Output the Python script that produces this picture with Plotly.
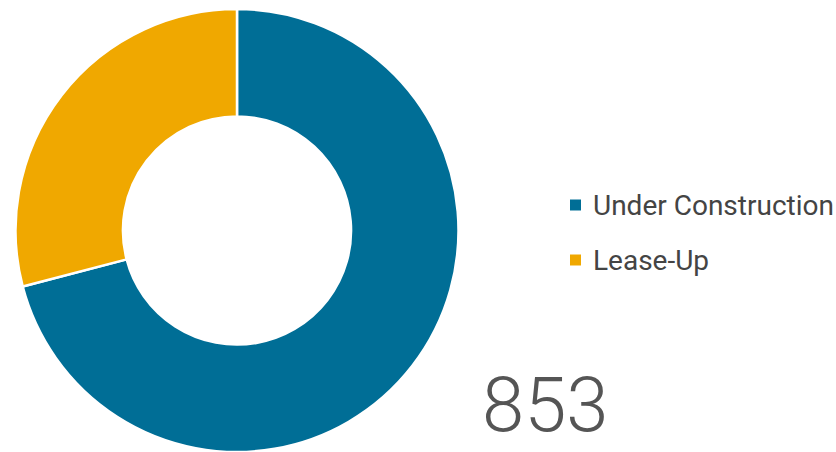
import plotly.graph_objects as go

labels = ["Under Construction", "Lease-Up"]
values = [605, 248]
colors = ["#006e96", "#f0a800"]
total_label = "853"

FONT = "Roboto, sans-serif"
W, H = 836, 452

fig = go.Figure(go.Pie(
    labels=labels,
    values=values,
    hole=0.515,
    sort=False,
    direction="clockwise",
    rotation=0,
    textinfo="none",
    showlegend=False,
    marker=dict(colors=colors, line=dict(color="white", width=2.5)),
    domain=dict(x=[15/W, 459/W], y=[0, 1 - 9/H]),
))

# legend drawn as text + colour squares
legend_y = [205, 260]  # pixel rows of legend entries (from top)
annotations = []
shapes = []
for lab, col, py in zip(labels, colors, legend_y):
    yc = 1 - py / H
    shapes.append(dict(type="rect", xref="paper", yref="paper",
                       x0=570/W, x1=581/W, y0=yc - 5.5/H, y1=yc + 5.5/H,
                       fillcolor=col, line=dict(width=0)))
    annotations.append(dict(text=lab, x=591/W, y=yc, xref="paper", yref="paper",
                            xanchor="left", yanchor="middle", showarrow=False,
                            font=dict(size=28, color="#444444", family=FONT)))

annotations.append(dict(
    text=total_label, x=545/W, y=0, xref="paper", yref="paper",
    xanchor="center", yanchor="bottom",
    showarrow=False, font=dict(size=76, color="#555555", family=FONT, weight=300),
))

fig.update_layout(
    width=W, height=H,
    margin=dict(l=0, r=0, t=0, b=0),
    paper_bgcolor="white",
    plot_bgcolor="white",
    font=dict(family=FONT, color="#444444"),
    showlegend=False,
    annotations=annotations,
    shapes=shapes,
)

fig.write_html("out.html", config={"displayModeBar": False},
               post_script="document.body.style.margin='0';")
